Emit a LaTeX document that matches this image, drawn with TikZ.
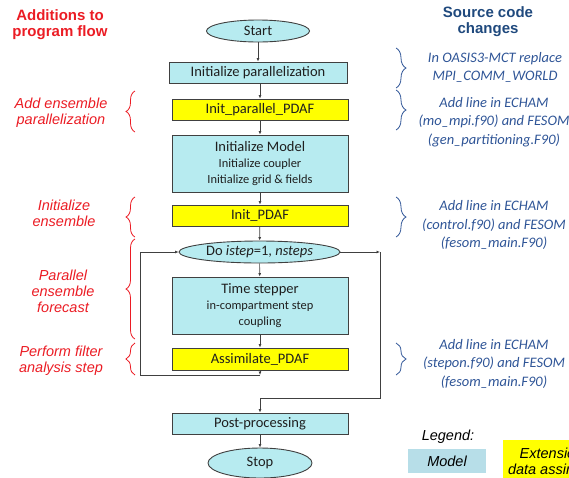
\documentclass[tikz,border=0pt]{standalone}
\usepackage{fontspec}
\setmainfont{Carlito}
\newfontfamily\arialf{Liberation Sans}
\usetikzlibrary{shapes.geometric,arrows.meta,decorations.pathreplacing}
\definecolor{boxblue}{RGB}{183,235,240}
\definecolor{legblue}{RGB}{183,222,232}
\definecolor{boxyel}{RGB}{255,255,0}
\definecolor{redtxt}{RGB}{235,28,36}
\definecolor{bluetxt}{RGB}{47,85,151}
\definecolor{bluehead}{RGB}{31,73,125}
\definecolor{linegray}{RGB}{64,64,64}
\begin{document}
\begin{tikzpicture}[x=1pt,y=-1pt,
  base/.style={draw=linegray, line width=0.9pt, inner sep=0pt, text=black!88, font=\fontsize{14.5}{16}\selectfont, align=center},
  modelbox/.style={base, rectangle, fill=boxblue, minimum width=176pt},
  pdafbox/.style={base, rectangle, fill=boxyel, minimum width=176pt, minimum height=21pt},
  term/.style={base, ellipse, fill=boxblue},
  flow/.style={draw=linegray, line width=0.7pt, -{Latex[length=3.5pt,width=3pt]}},
  plain/.style={draw=linegray, line width=0.7pt},
  redlab/.style={text=redtxt, font=\arialf\itshape\fontsize{14.5}{16}\selectfont, align=center, inner sep=0pt},
  bluelab/.style={text=bluetxt, font=\itshape\fontsize{14.5}{18.5}\selectfont, align=center, inner sep=0pt},
  redbrace/.style={draw=redtxt, line width=0.8pt, decorate, decoration={brace, amplitude=9pt}},
  bluebrace/.style={draw=bluetxt, line width=0.8pt, decorate, decoration={brace, amplitude=10pt}},
  sub/.style={}
]
\useasboundingbox (0,0) rectangle (569,477);
\clip (0,0) rectangle (569,477);

% headers
\node[text=redtxt, font=\arialf\bfseries\fontsize{15}{16}\selectfont, align=center, inner sep=0pt] (hleft) at (60,25) {Additions to\\program flow};
\node[text=bluehead, font=\arialf\bfseries\fontsize{15}{16}\selectfont, align=center, inner sep=0pt] (hright) at (488,22) {Source code\\changes};

% flow nodes
\node[term, minimum width=103pt, minimum height=22pt] (start) at (258,31) {Start};
\node[modelbox, minimum width=178pt, minimum height=21pt] (initpar) at (258,72.5) {Initialize parallelization};
\node[pdafbox] (ipdaf) at (260,109.5) {Init\_parallel\_PDAF};
\node[modelbox, minimum height=57pt, font=\fontsize{12.4}{16}\selectfont] (initmodel) at (260,163.5)
  {{\fontsize{14.5}{16}\selectfont Initialize Model}\\Initialize coupler\\Initialize grid \& fields};
\node[pdafbox] (initpdaf) at (260,215.5) {Init\_PDAF};
\node[term, minimum width=161pt, minimum height=22pt] (do) at (259.5,252) {Do \textit{istep}=1, \textit{nsteps}};
\node[modelbox, minimum height=57pt, font=\fontsize{12.4}{16}\selectfont] (ts) at (260,305.5)
  {{\fontsize{14.5}{16}\selectfont Time stepper}\\in-compartment step\\coupling};
\node[pdafbox, minimum height=22pt] (assim) at (260,359) {Assimilate\_PDAF};
\node[modelbox, minimum height=21pt] (post) at (260,423.5) {Post-processing};
\node[term, minimum width=104pt, minimum height=30pt] (stop) at (260,463) {Stop};

% connectors
\draw[flow] (start) -- (initpar);
\draw[flow] (initpar.south -| ipdaf.north) -- (ipdaf);
\draw[flow] (ipdaf) -- (initmodel);
\draw[flow] (initmodel) -- (initpdaf);
\draw[flow] (initpdaf) -- (do);
\draw[flow] (do) -- (ts);
\draw[flow] (ts) -- (assim);
\coordinate (j1) at (260,375);
\coordinate (lc) at (140,375);
\draw[flow] (assim) -- (j1);
\draw[flow] (j1) -- (lc) |- (do.west);
\coordinate (rc1) at (380,252);
\coordinate (rc2) at (380,398);
\coordinate (rc3) at (260,398);
\draw[flow] (do.east) -- (rc1);
\draw[flow] (rc1) -- (rc2) -- (rc3) -- (post.north);
\draw[flow] (post) -- (stop);

% red labels and braces
\node[redlab] (l1) at (61,112.5) {Add ensemble\\parallelization};
\node[redlab] (l2) at (64,213) {Initialize\\ensemble};
\node[redlab] (l3) at (63,291.5) {Parallel\\ensemble\\forecast};
\node[redlab] (l4) at (61,360.5) {Perform filter\\analysis step};
\draw[redbrace] (135,132) -- (135,91);
\draw[redbrace] (135,237) -- (135,197);
\draw[redbrace] (135,339) -- (135,239);
\draw[redbrace] (135,375) -- (135,343);

% blue labels and braces
\node[bluelab] (r1) at (495,67.5) {In OASIS3-MCT replace\\MPI\_COMM\_WORLD};
\node[bluelab] (r2) at (494,122) {Add line in ECHAM\\(mo\_mpi.f90) and FESOM\\(gen\_partitioning.F90)};
\node[bluelab] (r3) at (494,225) {Add line in ECHAM\\(control.f90) and FESOM\\(fesom\_main.F90)};
\node[bluelab] (r4) at (494,363.5) {Add line in ECHAM\\(stepon.f90) and FESOM\\(fesom\_main.F90)};
\draw[bluebrace] (396,48) -- (396,88);
\draw[bluebrace] (396,90) -- (396,130);
\draw[bluebrace] (396,197) -- (396,237);
\draw[bluebrace] (396,343) -- (396,375);

% legend
\node[font=\arialf\itshape\fontsize{14.5}{16}\selectfont, inner sep=0pt] (leg) at (448,437) {Legend:};
\node[fill=legblue, minimum width=78pt, minimum height=24pt, inner sep=0pt, font=\arialf\itshape\fontsize{14.5}{16}\selectfont] (legm) at (447,461) {Model};
\node[fill=boxyel, minimum width=118pt, minimum height=42pt, inner sep=0pt, align=center, font=\arialf\itshape\fontsize{14.5}{16}\selectfont] (legp) at (562,461) {Extension for\\data assimilation};
\end{tikzpicture}
\end{document}
